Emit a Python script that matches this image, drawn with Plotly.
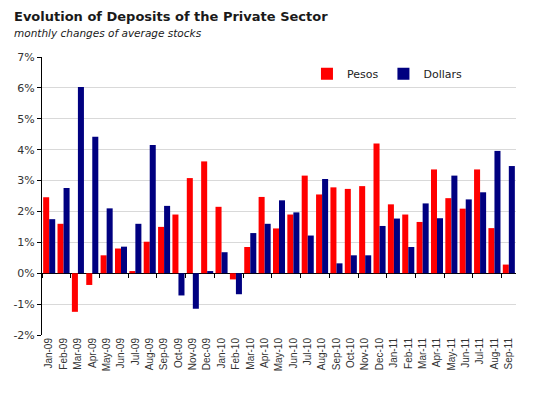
import plotly.graph_objects as go

months = ["Jan-09","Feb-09","Mar-09","Apr-09","May-09","Jun-09","Jul-09","Aug-09","Sep-09","Oct-09","Nov-09","Dec-09",
          "Jan-10","Feb-10","Mar-10","Apr-10","May-10","Jun-10","Jul-10","Aug-10","Sep-10","Oct-10","Nov-10","Dec-10",
          "Jan-11","Feb-11","Mar-11","Apr-11","May-11","Jun-11","Jul-11","Aug-11","Sep-11"]
pesos = [2.46, 1.60, -1.25, -0.38, 0.58, 0.80, 0.07, 1.02, 1.50, 1.90, 3.08, 3.62,
         2.15, -0.20, 0.85, 2.47, 1.45, 1.90, 3.16, 2.55, 2.78, 2.73, 2.82, 4.20,
         2.23, 1.90, 1.66, 3.36, 2.43, 2.09, 3.36, 1.46, 0.28]
dollars = [1.75, 2.76, 6.03, 4.42, 2.10, 0.86, 1.60, 4.15, 2.18, -0.72, -1.15, 0.07,
           0.68, -0.68, 1.30, 1.60, 2.36, 1.97, 1.22, 3.05, 0.32, 0.58, 0.58, 1.53,
           1.77, 0.85, 2.26, 1.78, 3.16, 2.39, 2.62, 3.96, 3.47]
y_ticks = list(range(-2, 8))
y_tick_labels = [f"{v}%" for v in y_ticks]

fig = go.Figure()
fig.add_trace(go.Bar(x=months, y=pesos, name="Pesos", marker=dict(color="#FF0000", line=dict(width=0))))
fig.add_trace(go.Bar(x=months, y=dollars, name="Dollars", marker=dict(color="#000080", line=dict(width=0))))
# helper trace for the zero-line category ticks
fig.add_trace(go.Scatter(x=months, y=[None]*len(months), xaxis="x2", showlegend=False, hoverinfo="skip"))

ymin, ymax = -2, 7
fig.update_layout(
    width=533, height=394,
    margin=dict(l=42, r=17, t=57, b=59),
    paper_bgcolor="white", plot_bgcolor="white",
    barmode="group", bargap=0.16, bargroupgap=0,
    font=dict(family="DejaVu Sans", color="#333333"),
    showlegend=True,
    legend=dict(orientation="h", x=0.559, y=0.992, xanchor="left", yanchor="top",
                font=dict(family="DejaVu Sans", size=11, color="#222222"),
                bgcolor="rgba(0,0,0,0)"),
    xaxis=dict(type="category", categoryorder="array", categoryarray=months,
               tickangle=-90, tickfont=dict(family="Liberation Sans", size=10, color="#333333"),
               showgrid=False, showline=False, ticks="", range=[-0.5, len(months)-0.5]),
    xaxis2=dict(type="category", categoryorder="array", categoryarray=months, overlaying="x",
                anchor="free", position=(0 - ymin) / (ymax - ymin), showticklabels=False,
                ticks="outside", tickson="boundaries", ticklen=4, tickcolor="black", showline=False,
                showgrid=False, range=[-0.5, len(months)-0.5]),
    yaxis=dict(range=[ymin, ymax], tickvals=y_ticks, ticktext=y_tick_labels,
               tickfont=dict(family="DejaVu Sans", size=11, color="#333333"),
               showgrid=True, gridcolor="#d9d9d9", gridwidth=1,
               zeroline=True, zerolinecolor="black", zerolinewidth=1,
               showline=True, linecolor="black", linewidth=1, ticks="outside", ticklen=4, tickcolor="black"),
    annotations=[
        dict(text="<b>Evolution of Deposits of the Private Sector</b>", xref="paper", yref="paper",
             x=-0.0633, y=1.144, xanchor="left", yanchor="middle", showarrow=False,
             font=dict(family="DejaVu Sans", size=13, color="#1a1a1a")),
        dict(text="<i>monthly changes of average stocks</i>", xref="paper", yref="paper",
             x=-0.0633, y=1.086, xanchor="left", yanchor="middle", showarrow=False,
             font=dict(family="DejaVu Sans", size=10.5, color="#1a1a1a")),
    ],
)
fig.write_html("out.html", config={"displayModeBar": False},
               post_script="document.body.style.margin='0px';")
